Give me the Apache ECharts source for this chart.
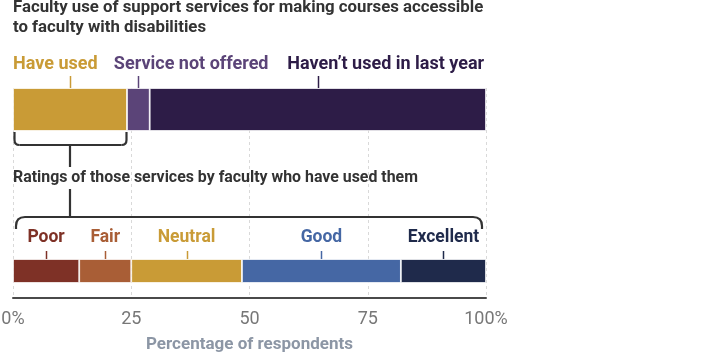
<!DOCTYPE html>
<html>
<head>
<meta charset="utf-8">
<script src="https://cdn.jsdelivr.net/npm/echarts@6/dist/echarts.min.js"></script>
<style>
html,body{margin:0;padding:0;background:#fff;}
#chart{width:706px;height:355px;}
</style>
</head>
<body>
<div id="chart"></div>
<script>
// ---- data ----
const useCategories = ['Have used', 'Service not offered', 'Haven’t used in last year'];
const useValues = [24.1, 4.8, 71.1];
const ratingCategories = ['Poor', 'Fair', 'Neutral', 'Good', 'Excellent'];
const ratingValues = [14.0, 11.0, 23.4, 33.6, 18.0];
const tickLabels = ['0%', '25', '50', '75', '100%'];
const tickValues = [0, 25, 50, 75, 100];
const titleLines = ['Faculty use of support services for making courses accessible', 'to faculty with disabilities'];
const subTitle = 'Ratings of those services by faculty who have used them';
const axisTitle = 'Percentage of respondents';

// ---- styles ----
const useColors = ['#C99B36', '#5B4478', '#2D1C47'];
const ratingColors = ['#7E3126', '#A95E36', '#C99B36', '#4567A4', '#1F2A4B'];
const useLabelOffsets = [-57, -24.5, -30.5]; // left-aligned text relative to bar centre
const FONT = 'Roboto, "Noto Sans", sans-serif';
const L = 13, W = 473;
const TOP_Y = 88, TOP_H = 43, BOT_Y = 259, BOT_H = 24, AXIS_Y = 298;

const chart = echarts.init(document.getElementById('chart'), null, {renderer: 'canvas'});

const series = [];
useCategories.forEach((name, i) => {
  series.push({
    name, type: 'bar', stack: 'use', xAxisIndex: 0, yAxisIndex: 0,
    data: [useValues[i]], barWidth: '100%', silent: true,
    itemStyle: {color: useColors[i], borderColor: '#fff', borderWidth: 0.8},
    label: {
      show: true, position: 'top', distance: 15, align: 'left',
      offset: [useLabelOffsets[i], 0],
      formatter: name, color: useColors[i],
      fontFamily: FONT, fontWeight: 'bold', fontSize: 18
    }
  });
});
ratingCategories.forEach((name, i) => {
  series.push({
    name, type: 'bar', stack: 'rate', xAxisIndex: 1, yAxisIndex: 1,
    data: [ratingValues[i]], barWidth: '100%', silent: true,
    itemStyle: {color: ratingColors[i], borderColor: '#fff', borderWidth: 0.8},
    label: {
      show: true, position: 'top', distance: 12,
      formatter: name, color: ratingColors[i],
      fontFamily: FONT, fontWeight: 'bold', fontSize: 17.5
    }
  });
});

const hiddenX = {type: 'value', min: 0, max: 100, show: false};
const hiddenY = {type: 'category', data: [''], show: false};

chart.setOption({
  animation: false,
  backgroundColor: '#fff',
  grid: [
    {left: L, width: W, top: TOP_Y, height: TOP_H, outerBoundsMode: 'none', containLabel: false},
    {left: L, width: W, top: BOT_Y, height: BOT_H, outerBoundsMode: 'none', containLabel: false},
    {left: L, width: W, top: TOP_Y, height: AXIS_Y - TOP_Y, outerBoundsMode: 'none', containLabel: false}
  ],
  xAxis: [
    Object.assign({gridIndex: 0}, hiddenX),
    Object.assign({gridIndex: 1}, hiddenX),
    {
      gridIndex: 2, type: 'value', min: 0, max: 100, interval: 25,
      axisLine: {show: true, onZero: false, lineStyle: {color: '#4a4a4a', width: 2}},
      axisTick: {show: false},
      splitLine: {show: true, lineStyle: {color: '#d9d9d9', width: 1, type: [3, 3]}},
      axisLabel: {
        margin: 12, color: '#777', fontFamily: FONT, fontSize: 18,
        formatter: v => tickLabels[tickValues.indexOf(v)]
      },
      name: axisTitle, nameLocation: 'middle', nameGap: 38,
      nameTextStyle: {color: '#8C96A5', fontFamily: FONT, fontSize: 17, fontWeight: 'bold'}
    }
  ],
  yAxis: [
    Object.assign({gridIndex: 0}, hiddenY),
    Object.assign({gridIndex: 1}, hiddenY),
    {gridIndex: 2, type: 'value', min: 0, max: 1, show: false}
  ],
  series
});

// ---- annotations positioned via the axis scales ----
const px0 = v => chart.convertToPixel({xAxisIndex: 0}, v);
const px1 = v => chart.convertToPixel({xAxisIndex: 1}, v);
const graphics = [];
const ink = '#333';
const LW = 2.2;

// title texts
titleLines.forEach((t, i) => {
  graphics.push({type: 'text', x: L, y: 8 + i * 20,
    style: {text: t, fill: ink, font: 'bold 16.8px ' + FONT, textVerticalAlign: 'middle'}});
});
graphics.push({type: 'text', x: L, y: 178,
  style: {text: subTitle, fill: ink, font: 'bold 15.9px ' + FONT, textVerticalAlign: 'middle'}});

// pointer ticks
let acc = 0;
useValues.forEach((v, i) => {
  const cx = Math.round(px0(acc + v / 2)) + 0.5;
  graphics.push({type: 'line', shape: {x1: cx, y1: TOP_Y - 12, x2: cx, y2: TOP_Y},
    style: {stroke: useColors[i], lineWidth: 1.5}, z: 10});
  acc += v;
});
acc = 0;
ratingValues.forEach((v, i) => {
  const cx = Math.round(px1(acc + v / 2)) + 0.5;
  graphics.push({type: 'line', shape: {x1: cx, y1: BOT_Y - 8, x2: cx, y2: BOT_Y},
    style: {stroke: ratingColors[i], lineWidth: 1.5}, z: 10});
  acc += v;
});

function line(x1, y1, x2, y2) {
  graphics.push({type: 'line', z: 10, shape: {x1, y1, x2, y2}, style: {stroke: ink, lineWidth: LW, lineCap: 'butt'}});
}
function curve(x1, y1, cx, cy, x2, y2) {
  graphics.push({type: 'bezierCurve', z: 10, shape: {x1, y1, x2, y2, cpx1: cx, cpy1: cy},
    style: {stroke: ink, lineWidth: LW, fill: null}});
}

// bracket under "Have used"
const bx1 = px0(0) + 1.5, bx2 = px0(useValues[0]) - 0.5;
const by1 = TOP_Y + TOP_H + 1, by2 = 145, r = 5;
line(bx1, by1, bx1, by2 - r);
curve(bx1, by2 - r, bx1, by2, bx1 + r, by2);
line(bx1 + r, by2, bx2 - r, by2);
curve(bx2 - r, by2, bx2, by2, bx2, by2 - r);
line(bx2, by2 - r, bx2, by1);
const stemX = px0(useValues[0] / 2);
line(stemX, by2, stemX, 167);
const cy1 = 217, cy2 = 229, r2 = 9;
line(stemX, 189, stemX, cy1);
// bracket over ratings
const cx1 = px1(0) + 3, cx2 = px1(100) - 4;
line(cx1, cy2, cx1, cy1 + r2);
curve(cx1, cy1 + r2, cx1, cy1, cx1 + r2, cy1);
line(cx1 + r2, cy1, cx2 - r2, cy1);
curve(cx2 - r2, cy1, cx2, cy1, cx2, cy1 + r2);
line(cx2, cy1 + r2, cx2, cy2);

chart.setOption({graphic: graphics});
</script>
</body>
</html>
